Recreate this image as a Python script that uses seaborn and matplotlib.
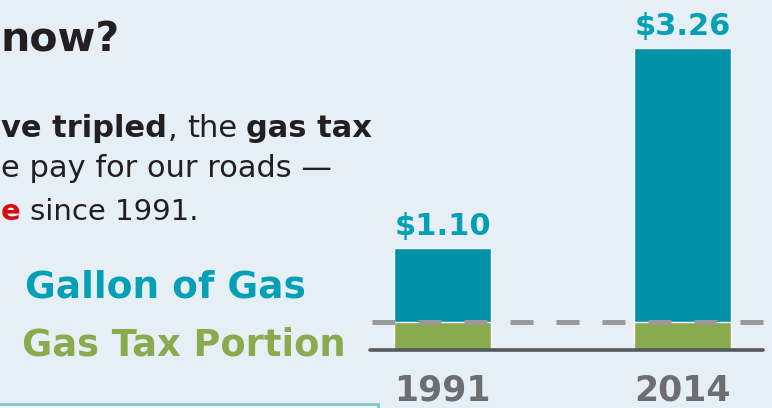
import seaborn as sns
import pandas as pd
import numpy as np
import matplotlib.pyplot as plt
from matplotlib.patches import Rectangle

years = ["1991", "2014"]
gallon_price = [1.10, 3.26]
tax_portion = [0.30, 0.30]
price_labels = ["$1.10", "$3.26"]

teal = "#0090a8"
teal_txt = "#05a0b6"
green = "#8aaa4e"
dark = "#231f20"
red = "#d30f0f"
bg = "#e6eff6"

sns.set_theme(style="white")
plt.rcParams["font.family"] = ["DejaVu Sans"]

W, H = 772, 408
fig = plt.figure(figsize=(W / 100, H / 100), dpi=100)
fig.patch.set_facecolor(bg)
rend = fig.canvas.get_renderer()

def fx(px):
    return px / W

def fy(py):
    return 1 - py / H

# bar area
ax = fig.add_axes([fx(370), 58 / H, fx(402), 350 / H])
ax.set_facecolor("none")
df = pd.DataFrame({"year": years, "price": gallon_price, "tax": tax_portion})
sns.barplot(data=df, x="year", y="price", color=teal, width=0.404,
            saturation=1, ax=ax, zorder=2)
sns.barplot(data=df, x="year", y="tax", color=green, width=0.404,
            saturation=1, ax=ax, zorder=2)
ax.set_xlim(-0.302, 1.373)
ax.set_ylim(0, 3.78)
ax.set_xlabel("")
ax.set_ylabel("")
ax.set_yticks([])
sns.despine(ax=ax, left=True, bottom=True)

ax.axhline(tax_portion[0], xmin=2 / 402, xmax=1, color="#999999", lw=3.6,
           dashes=(4.6, 4.6), zorder=3)
ax.axhline(0, xmin=0, xmax=393 / 402, color="#55595d", lw=2.6, zorder=3,
           clip_on=False)

ax.tick_params(axis="x", length=0, pad=17)
for lbl in ax.get_xticklabels():
    lbl.set_fontsize(25)
    lbl.set_fontweight("bold")
    lbl.set_color("#6d6e71")

ax.bar_label(ax.containers[0], labels=price_labels, padding=5, fontsize=22,
             fontweight="bold", color=teal_txt)

# left text block
fig.text(fx(1), fy(52), "now?", fontsize=29.5, fontweight="bold", color=dark,
         va="baseline")

def line(x, y, parts, size=22):
    for s, w, c, gap in parts:
        t = fig.text(fx(x), fy(y), s, fontsize=size, color=c, fontweight=w,
                     va="baseline")
        x += t.get_window_extent(rend).width + gap

sp = 9
line(1, 137, [("ve tripled", "bold", dark, 1), (",", "normal", dark, sp),
              ("the", "normal", dark, sp), ("gas tax", "bold", dark, 0)])
line(1, 177, [("e pay for our roads \u2014", "normal", dark, 0)])
line(1, 220, [("e", "bold", red, sp), ("since 1991.", "normal", dark, 0)],
     size=21)

fig.text(fx(25), fy(298), "Gallon of Gas", fontsize=27, fontweight="bold",
         color=teal_txt, va="baseline")
fig.text(fx(22), fy(355), "Gas Tax Portion", fontsize=26.5, fontweight="bold",
         color=green, va="baseline")

fig.patches.append(Rectangle((fx(-5), fy(412)), fx(383), 8 / H,
                             transform=fig.transFigure, facecolor="#eef5f8",
                             edgecolor="#86c3cb", lw=2))

fig.savefig("out.png", dpi=100, facecolor=bg)
